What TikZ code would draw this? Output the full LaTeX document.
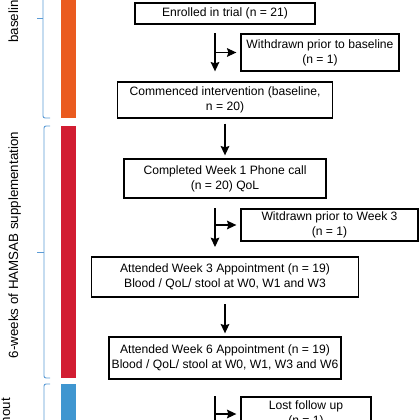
\documentclass[tikz,border=0pt]{standalone}
\usepackage{fontspec}
\setmainfont{Liberation Sans}
\usetikzlibrary{positioning, arrows.meta}
\definecolor{barorange}{RGB}{234,91,31}
\definecolor{barred}{RGB}{210,29,50}
\definecolor{barblue}{RGB}{63,150,208}
\definecolor{bracecol}{RGB}{91,155,213}

\begin{document}
\begin{tikzpicture}[x=0.75pt, y=-0.75pt,
	box/.style={rectangle, text centered, align=center, draw=black, line width=1pt, inner sep=0pt, font=\fontsize{9.1}{11.2}\selectfont},
	flow/.style={-{Stealth[length=7pt, width=6.5pt, inset=1pt]}, line width=0.85pt},
	brace/.style={draw=bracecol, line width=0.7pt, rounded corners=1.5pt},
	phase/.style={rotate=90, inner sep=0pt, font=\fontsize{10}{12}\selectfont}]
	\path[use as bounding box, clip] (0,0) rectangle (420,420);
	% timeline bars
	\fill[barorange] (61,-90) rectangle (76,118);
	\fill[barred] (61,126) rectangle (76,378);
	\fill[barblue] (61,384) rectangle (76,500);
	% braces
	\draw[brace] (50,-82) -- (43,-82) -- (43,118) -- (50,118);
	\draw[brace] (43,18) -- (37,18);
	\draw[brace] (50,126) -- (44,126) -- (44,378) -- (50,378);
	\draw[brace] (44,252) -- (37,252);
	\draw[brace] (50,384) -- (44,384) -- (44,500);
	% phase labels
	\node[phase, anchor=base west] (lblbase) at (18,43) {baseline};
	\node[phase, anchor=base] (lblsupp) at (18,245) {6-weeks of HAMSAB supplementation};
	\node[phase, anchor=base east] (lblwash) at (10,398) {washout};
	% flow boxes
	\node[box, minimum width=135pt, minimum height=15.75pt] (enrolled) at (225,13.5) {Enrolled in trial (n = 21)};
	\node[box, minimum width=118.5pt, minimum height=27.75pt] (wdbase) at (320,52.5) {Withdrawn prior to baseline\\(n = 1)};
	\node[box, minimum width=161.25pt, minimum height=27pt] (commenced) at (225,100) {Commenced intervention (baseline,\\n = 20)};
	\node[box, minimum width=151.5pt, minimum height=29.25pt] (weekone) at (225,178.5) {Completed Week 1 Phone call\\(n = 20) QoL};
	\node[box, minimum width=132.75pt, minimum height=24pt] (wdthree) at (329.5,225) {Witdrawn prior to Week 3\\(n = 1)};
	\node[box, minimum width=200.25pt, minimum height=30pt] (weekthree) at (225,277) {Attended Week 3 Appointment (n = 19)\\Blood / QoL/ stool at W0, W1 and W3};
	\node[box, minimum width=174pt, minimum height=31.5pt] (weeksix) at (225,358) {Attended Week 6 Appointment (n = 19)\\Blood / QoL/ stool at W0, W1, W3 and W6};
	\node[box, minimum width=97.5pt, minimum height=25.5pt] (lost) at (306,414) {Lost follow up\\(n = 1)};
	% branch points
	\coordinate (bone) at ([xshift=-7.5pt]enrolled.south);
	\coordinate (btwo) at ([xshift=-7.5pt]weekone.south);
	\coordinate (bthree) at ([xshift=-7.5pt]weeksix.south);
	\coordinate (exit) at (215,470);
	% arrows
	\draw[flow, shorten >=7.5pt] (bone |- wdbase.north) -- (bone |- commenced.north);
	\draw[flow, shorten >=3pt] (bone |- wdbase.west) -- (wdbase.west);
	\draw[flow, shorten <=3.75pt, shorten >=2.25pt] (commenced.south) -- (weekone.north);
	\draw[flow, shorten >=7pt] (btwo |- wdthree.north) -- (btwo |- weekthree.north);
	\draw[flow, shorten >=3pt] (btwo |- wdthree.west) -- (wdthree.west);
	\draw[flow, shorten <=5pt, shorten >=2.25pt] (weekthree.south) -- (weeksix.north);
	\draw[flow] (bthree |- lost.north) -- (exit);
	\draw[flow, shorten >=3pt] (bthree |- lost.west) -- (lost.west);
\end{tikzpicture}
\end{document}
